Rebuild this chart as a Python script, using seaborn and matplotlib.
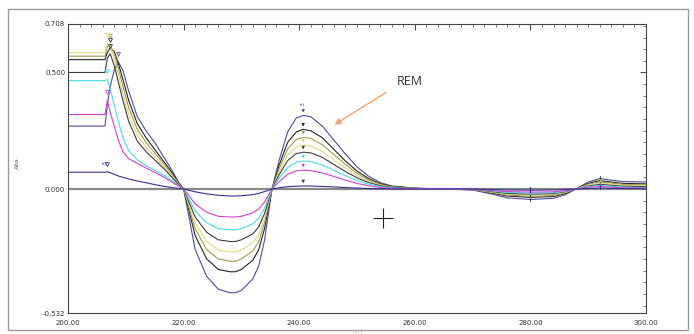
import numpy as np
import pandas as pd
import seaborn as sns
from matplotlib import pyplot as plt
from matplotlib.patches import Rectangle
from matplotlib.ticker import FixedLocator, MultipleLocator

# wavelength grid (nm)
wavelength = [
    200, 206.4, 206.8, 207.3, 208, 208.7, 209.5, 210.5, 212, 213.5, 215, 216.5, 218, 219, 220,
    222, 224, 226, 228, 229, 230, 232, 233, 234, 235.3,
    236.5, 238, 239.5, 240.7, 242, 244, 246, 248, 250, 252, 254, 256, 260, 265,
    270, 273, 276, 280, 284, 286, 288, 290, 292, 294, 296, 300,
]

navy = [
    0.27, 0.27, 0.36, 0.44, 0.51, 0.545, 0.51, 0.42, 0.31, 0.25, 0.20, 0.14, 0.08, 0.035, 0.0,
    -0.26, -0.375, -0.43, -0.445, -0.445, -0.435, -0.385, -0.33, -0.22, 0.0,
    0.12, 0.245, 0.305, 0.316, 0.31, 0.27, 0.21, 0.15, 0.095, 0.055, 0.028, 0.013, 0.004, 0.0,
    -0.004, -0.02, -0.038, -0.045, -0.04, -0.025, 0.002, 0.03, 0.045, 0.038, 0.032, 0.03,
]
black = [
    0.555, 0.555, 0.585, 0.605, 0.59, 0.54, 0.47, 0.38, 0.28, 0.22, 0.17, 0.12, 0.07, 0.03, 0.0,
    -0.20, -0.30, -0.345, -0.355, -0.355, -0.345, -0.305, -0.26, -0.17, 0.0,
    0.10, 0.20, 0.245, 0.256, 0.25, 0.22, 0.17, 0.12, 0.077, 0.045, 0.023, 0.011, 0.003, 0.0,
    -0.003, -0.016, -0.03, -0.036, -0.032, -0.02, 0.001, 0.024, 0.036, 0.03, 0.024, 0.022,
]
olive = [
    0.57, 0.57, 0.61, 0.62, 0.58, 0.52, 0.44, 0.35, 0.255, 0.20, 0.155, 0.11, 0.063, 0.028, 0.0,
    -0.17, -0.26, -0.30, -0.31, -0.31, -0.30, -0.265, -0.225, -0.145, 0.0,
    0.085, 0.172, 0.213, 0.222, 0.217, 0.19, 0.148, 0.105, 0.067, 0.039, 0.02, 0.009, 0.003, 0.0,
    -0.003, -0.014, -0.026, -0.031, -0.028, -0.017, 0.001, 0.02, 0.03, 0.025, 0.02, 0.018,
]
yellow = [
    0.585, 0.585, 0.625, 0.61, 0.56, 0.49, 0.41, 0.32, 0.23, 0.18, 0.14, 0.10, 0.057, 0.025, 0.0,
    -0.145, -0.225, -0.262, -0.27, -0.27, -0.262, -0.23, -0.195, -0.125, 0.0,
    0.072, 0.146, 0.18, 0.188, 0.184, 0.161, 0.125, 0.089, 0.057, 0.033, 0.017, 0.008, 0.002, 0.0,
    -0.002, -0.012, -0.022, -0.026, -0.024, -0.014, 0.001, 0.017, 0.026, 0.021, 0.016, 0.014,
]
slate = [
    0.50, 0.50, 0.56, 0.58, 0.53, 0.46, 0.38, 0.29, 0.205, 0.16, 0.125, 0.09, 0.05, 0.022, 0.0,
    -0.12, -0.186, -0.218, -0.225, -0.225, -0.218, -0.192, -0.162, -0.105, 0.0,
    0.06, 0.122, 0.152, 0.158, 0.155, 0.136, 0.105, 0.075, 0.048, 0.028, 0.014, 0.007, 0.002, 0.0,
    -0.002, -0.01, -0.019, -0.022, -0.02, -0.012, 0.0, 0.013, 0.02, 0.016, 0.012, 0.01,
]
cyan = [
    0.465, 0.465, 0.47, 0.43, 0.36, 0.29, 0.22, 0.165, 0.125, 0.10, 0.08, 0.06, 0.037, 0.017, 0.0,
    -0.094, -0.145, -0.17, -0.175, -0.175, -0.17, -0.149, -0.126, -0.082, 0.0,
    0.046, 0.093, 0.115, 0.12, 0.118, 0.103, 0.08, 0.057, 0.036, 0.021, 0.011, 0.005, 0.001, 0.0,
    -0.001, -0.008, -0.015, -0.017, -0.016, -0.01, 0.0, 0.01, 0.015, 0.012, 0.008, 0.006,
]
magenta = [
    0.32, 0.32, 0.38, 0.33, 0.27, 0.21, 0.16, 0.13, 0.11, 0.09, 0.072, 0.052, 0.03, 0.014, 0.0,
    -0.064, -0.1, -0.117, -0.12, -0.12, -0.117, -0.102, -0.086, -0.056, 0.0,
    0.031, 0.063, 0.078, 0.081, 0.079, 0.069, 0.054, 0.038, 0.024, 0.014, 0.007, 0.003, 0.001, 0.0,
    -0.001, -0.006, -0.011, -0.013, -0.012, -0.007, 0.0, 0.007, 0.011, 0.008, 0.005, 0.004,
]
purple = [
    0.072, 0.072, 0.074, 0.07, 0.063, 0.056, 0.05, 0.043, 0.034, 0.027, 0.019, 0.012, 0.006, 0.003, 0.0,
    -0.012, -0.021, -0.027, -0.03, -0.03, -0.029, -0.024, -0.019, -0.011, 0.0,
    0.005, 0.01, 0.012, 0.013, 0.013, 0.011, 0.009, 0.006, 0.004, 0.002, 0.001, 0.0, 0.0, 0.0,
    0.0, -0.002, -0.004, -0.005, -0.004, -0.002, 0.0, 0.002, 0.004, 0.003, 0.002, 0.001,
]

series = {
    "navy": navy,
    "black": black,
    "olive": olive,
    "yellow": yellow,
    "slate": slate,
    "cyan": cyan,
    "magenta": magenta,
    "purple": purple,
}
colors = {
    "navy": "#4d4d9e",
    "black": "#222222",
    "olive": "#a39c4a",
    "yellow": "#e3d77c",
    "slate": "#3c3c44",
    "cyan": "#45dde3",
    "magenta": "#d23fcf",
    "purple": "#3b2f8f",
}

x_ticks = [200, 220, 240, 260, 280, 300]
y_ticks = [-0.532, 0.0, 0.5, 0.708]
y_ticklabels = ["-0.532", "0.000", "0.500", "0.708"]
cursor_pos = (254.5, -0.124)

df = pd.concat(
    [pd.DataFrame({"nm": wavelength, "abs": vals, "scan": name}) for name, vals in series.items()],
    ignore_index=True,
)

sns.set_style("white")
plt.rcParams["font.family"] = ["DejaVu Sans"]

fig = plt.figure(figsize=(6.94, 3.34), dpi=100)
ax = fig.add_axes([68 / 694, 1 - 313 / 334, 578 / 694, 289 / 334])

ax.axhline(0, color="#8a8a8a", lw=1.6, zorder=1)
sns.lineplot(
    data=df, x="nm", y="abs", hue="scan", palette=colors, sort=False,
    estimator=None, legend=False, lw=0.8, ax=ax, zorder=2,
)

wl = np.array(wavelength)
for name, vals in series.items():
    v = np.array(vals)
    c = colors[name]
    # left peak marker
    left = np.where(wl < 211)[0]
    i = left[np.argmax(v[left])]
    ax.plot(wl[i], v[i] + 0.035, marker="v", ms=2.8, mfc="none", mec=c, mew=0.6, zorder=3)
    # main peak arrow
    mid = np.where((wl > 236) & (wl < 256))[0]
    j = mid[np.argmax(v[mid])]
    ax.annotate("", xy=(wl[j], v[j]), xytext=(wl[j], v[j] + 0.035),
                arrowprops=dict(arrowstyle="-|>", color=c, lw=0.6, mutation_scale=4))
    # small band markers
    for w in (280, 292):
        k = int(np.argmin(np.abs(wl - w)))
        ax.plot([wl[k], wl[k]], [v[k] - 0.006, v[k] + 0.012], color=c, lw=0.8, zorder=3)

ax.text(wavelength[1], purple[1] + 0.03, "3", rotation=90, fontsize=4.5,
        color=colors["purple"], ha="center", va="bottom")
ax.text(wavelength[28], navy[28] + 0.04, "3", rotation=90, fontsize=4.5,
        color=colors["navy"], ha="center", va="bottom")

ax.text(259.2, 0.46, "REM", fontsize=9, family="Open Sans", color="#333333",
        ha="center", va="center")
ax.annotate("", xy=(245.7, 0.27), xytext=(255.4, 0.42),
            arrowprops=dict(arrowstyle="-|>", color="#f0a368", lw=1.0, mutation_scale=9))
ax.plot(*cursor_pos, marker="+", ms=14, mew=0.8, color="#222222", zorder=4)

ax.set_xlim(200, 300)
ax.set_ylim(-0.532, 0.708)
ax.xaxis.set_major_locator(FixedLocator(x_ticks))
ax.set_xticklabels([f"{t:.2f}" for t in x_ticks])
ax.xaxis.set_minor_locator(MultipleLocator(2))
ax.yaxis.set_major_locator(FixedLocator(y_ticks))
ax.set_yticklabels(y_ticklabels)
ax.yaxis.set_minor_locator(MultipleLocator(0.05))
ax.tick_params(which="both", direction="in", top=True, right=True,
               color="#444444", labelsize=5, labelcolor="#333333")
ax.tick_params(which="major", length=4, width=0.7)
ax.tick_params(which="minor", length=2, width=0.5)
ax.tick_params(axis="x", pad=5)
ax.tick_params(axis="y", pad=2)
for s in ax.spines.values():
    s.set_color("#444444")
    s.set_linewidth(0.8)

ax.set_ylabel("Abs.", fontsize=4.5, color="#555555")
ax.yaxis.set_label_coords(-0.083, 0.52)
ax.set_xlabel("nm", fontsize=5, color="#cccccc")
ax.xaxis.set_label_coords(0.5, -0.055)

fig.add_artist(Rectangle((8 / 694, 4 / 334), 680 / 694, 321 / 334, transform=fig.transFigure,
                         fill=False, ec="#9a9a9a", lw=1.0))

fig.savefig("out.png", dpi=100)
